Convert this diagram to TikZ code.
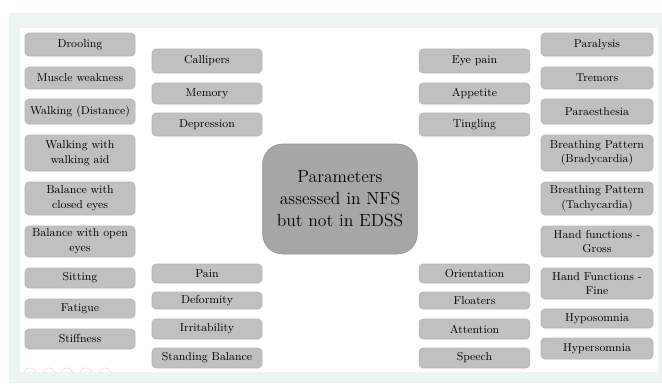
\documentclass[tikz,border=0pt]{standalone}
\usepackage{fontspec}
\definecolor{mint}{RGB}{236,245,241}
\definecolor{boxgray}{RGB}{192,192,192}
\definecolor{boxedge}{RGB}{180,180,180}
\definecolor{hubgray}{RGB}{166,166,166}
\tikzset{
  item/.style={rectangle, rounded corners=3pt, fill=boxgray, draw=boxedge,
    line width=0.5pt, inner sep=1pt, align=center, text=black,
    font=\fontsize{8.6}{11}\selectfont},
  hub/.style={rectangle, rounded corners=15pt, fill=hubgray, draw=hubgray!90!black,
    line width=0.5pt, align=center, text=black,
    font=\fontsize{13.2}{16.5}\selectfont}
}
\begin{document}
\begin{tikzpicture}[x=0.75pt,y=-0.75pt]
    \useasboundingbox (0,0) rectangle (662,383);
    \fill[white] (0,0) rectangle (662,383);
    \fill[mint] (9,13) rectangle (662,383);
    \fill[white] (20,28) rectangle (658,372);
    % faint icons bottom left
    \begin{scope}
      \clip (20,28) rectangle (658,372);
      \foreach \cx in {30,49,67,86,105} {
          \draw[gray!20,line width=0.6pt] (\cx,374) circle (6);
        }
    \end{scope}
    % outer left column
    \foreach \ya/\yb/\txt [count=\n] in {33/56/Drooling, 67/89/{Muscle weakness},
        99/124/{Walking (Distance)}, 135/171/{Walking with\\walking aid},
        182/215/{Balance with\\closed eyes}, 226/257/{Balance with open\\eyes},
        268/288/Sitting, 299/318/Fatigue, 329/349/Stiffness} {
        \node[item, minimum width=82.5pt, minimum height={(\yb-\ya)*0.75pt}]
          (left\n) at (80,{(\ya+\yb)/2}) {\txt};
      }
    % inner left column
    \foreach \ya/\yb/\txt [count=\n] in {49/73/Callipers, 83/104/Memory,
        113/136/Depression, 264/283/Pain, 292/309/Deformity,
        319/339/Irritability, 348/368/{Standing Balance}} {
        \node[item, minimum width=82.5pt, minimum height={(\yb-\ya)*0.75pt}]
          (midleft\n) at (207,{(\ya+\yb)/2}) {\txt};
      }
    % inner right column
    \foreach \ya/\yb/\txt [count=\n] in {49/73/{Eye pain}, 83/104/Appetite,
        113/136/Tingling, 264/283/Orientation, 292/309/Floaters,
        319/339/Attention, 348/368/Speech} {
        \node[item, minimum width=83pt, minimum height={(\yb-\ya)*0.75pt}]
          (midright\n) at (474.5,{(\ya+\yb)/2}) {\txt};
      }
    % outer right column
    \foreach \ya/\yb/\txt [count=\n] in {33/56/Paralysis, 67/89/Tremors,
        99/124/Paraesthesia, 135/171/{Breathing Pattern\\(Bradycardia)},
        182/215/{Breathing Pattern\\(Tachycardia)}, 226/257/{Hand functions -\\Gross},
        268/299/{Hand Functions -\\Fine}, 309/328/Hyposomnia, 338/359/Hypersomnia} {
        \node[item, minimum width=84pt, minimum height={(\yb-\ya)*0.75pt}]
          (right\n) at (597,{(\ya+\yb)/2}) {\txt};
      }
    % centre
    \node[hub, minimum width=116pt, minimum height=82.5pt] (params) at (340,199)
      {Parameters\\assessed in NFS\\but not in EDSS};
  \end{tikzpicture}
\end{document}
